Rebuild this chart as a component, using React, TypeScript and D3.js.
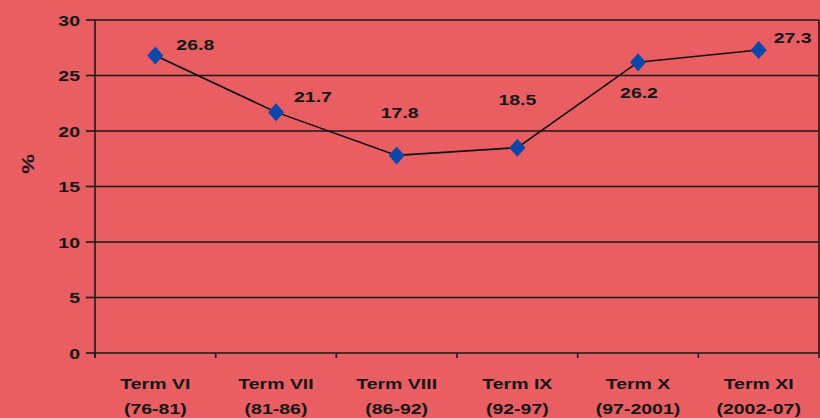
import React from "react";
import * as d3 from "d3";

const categories = ["Term VI", "Term VII", "Term VIII", "Term IX", "Term X", "Term XI"];
const periods = ["(76-81)", "(81-86)", "(86-92)", "(92-97)", "(97-2001)", "(2002-07)"];
const values = [26.8, 21.7, 17.8, 18.5, 26.2, 27.3];
const valueLabels = ["26.8", "21.7", "17.8", "18.5", "26.2", "27.3"];
const yTicks = [0, 5, 10, 15, 20, 25, 30];
const yLabel = "%";

// label placement offsets relative to point (style only)
const labelOffsets: [number, number, string][] = [
  [21, -6, "start"],
  [18, -10, "start"],
  [3, -37, "middle"],
  [0, -43, "middle"],
  [1, 36, "middle"],
  [15, -7, "start"],
];

const W = 820;
const H = 418;
const left = 95;
const right = 819;
const top = 20;
const bottom = 353;
const bg = "#E85E62";
const font = "'Liberation Sans', Arial, sans-serif";
const SX = 1.3;

function T({ x, y, anchor, children, size = 15, rotate = 0 }: any) {
  return (
    <text
      transform={`translate(${x},${y}) rotate(${rotate}) scale(${SX},1)`}
      textAnchor={anchor}
      fontSize={size}
      fontWeight="bold"
      fill="#161616"
    >
      {children}
    </text>
  );
}

export default function App() {
  const x = d3.scaleBand<string>().domain(categories).range([left, right]).padding(0);
  const y = d3.scaleLinear().domain([0, 30]).range([bottom, top]);
  const cx = (c: string) => (x(c) as number) + x.bandwidth() / 2;
  const line = d3
    .line<number>()
    .x((_, i) => cx(categories[i]))
    .y((d) => y(d));
  const diamond = "M0,-9L8,0L0,9L-8,0Z";
  const boundaries = categories.map((c) => x(c) as number).concat([right]);

  return (
    <svg
      width={W}
      height={H}
      style={{ position: "absolute", left: 0, top: 0, background: bg }}
      fontFamily={font}
    >
      <rect x={0} y={0} width={W} height={H} fill={bg} />
      {yTicks.map((t) => (
        <g key={t}>
          <line x1={left} x2={right} y1={y(t)} y2={y(t)} stroke="#1a1a1a" strokeWidth={1.6} />
          <line x1={left - 9} x2={left} y1={y(t)} y2={y(t)} stroke="#1a1a1a" strokeWidth={1.6} />
          <T x={left - 15} y={y(t) + 5.5} anchor="end">
            {t}
          </T>
        </g>
      ))}
      <line x1={left} x2={left} y1={top} y2={bottom + 4} stroke="#1a1a1a" strokeWidth={1.6} />
      <line x1={right} x2={right} y1={top} y2={bottom} stroke="#1a1a1a" strokeWidth={1.6} />
      {boundaries.map((b, i) => (
        <line key={i} x1={b} x2={b} y1={bottom} y2={bottom + 5} stroke="#1a1a1a" strokeWidth={1.6} />
      ))}
      {categories.map((c, i) => (
        <g key={c}>
          <T x={cx(c)} y={389} anchor="middle">
            {c}
          </T>
          <T x={cx(c)} y={414} anchor="middle">
            {periods[i]}
          </T>
        </g>
      ))}
      <T x={34} y={164} anchor="middle" size={17} rotate={-90}>
        {yLabel}
      </T>
      <path d={line(values) || ""} fill="none" stroke="#111" strokeWidth={1.6} />
      {values.map((v, i) => (
        <path
          key={i}
          d={diamond}
          transform={`translate(${cx(categories[i])},${y(v)})`}
          fill="#0B47A8"
        />
      ))}
      {values.map((v, i) => (
        <T
          key={i}
          x={cx(categories[i]) + labelOffsets[i][0]}
          y={y(v) + labelOffsets[i][1]}
          anchor={labelOffsets[i][2]}
        >
          {valueLabels[i]}
        </T>
      ))}
    </svg>
  );
}
